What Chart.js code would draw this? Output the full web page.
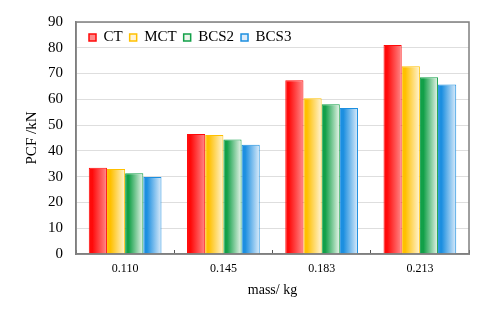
<!DOCTYPE html>
<html>
<head>
<meta charset="utf-8">
<script src="https://cdn.jsdelivr.net/npm/chart.js@4/dist/chart.umd.min.js"></script>
<style>
html,body{margin:0;padding:0;background:#fff}
#wrap{width:490px;height:314px}
</style>
</head>
<body>
<div id="wrap"><canvas id="c"></canvas></div>
<script>
// data
const masses=["0.110","0.145","0.183","0.213"]
const ct=[33.5,46.6,67.4,81.1]
const mct=[33.0,46.2,60.4,72.8]
const bcs2=[31.3,44.4,58.1,68.6]
const bcs3=[29.9,42.4,56.6,65.8]

// base colour (left edge) and light colour (right edge) for each series
const shades=[
["#ff0a0a","#ff8a8a"],
["#ffc000","#fff4d6"],
["#12a048","#ecf5ec"],
["#1c8fe0","#ddecfa"]
]

// horizontal gradient on every bar, built from the bar's own x/width
const barShade={
id:"barShade",
beforeDatasetsDraw(chart){
const ctx=chart.ctx
chart.data.datasets.forEach((ds,d)=>{
const meta=chart.getDatasetMeta(d)
meta.data.forEach(bar=>{
const x0=bar.x-bar.width/2
const g=ctx.createLinearGradient(x0,0,x0+bar.width,0)
g.addColorStop(0,shades[d][0])
g.addColorStop(0.2,shades[d][0])
g.addColorStop(1,shades[d][1])
bar.options.backgroundColor=g
})
})
}
}

// legend sits inside the plot, one row, without taking layout space
const legendInside={
id:"legendInside",
beforeUpdate(chart){
const lg=chart.legend
if(lg && !lg._inside){
const fit=lg.fit.bind(lg)
lg.fit=function(){fit();this._realHeight=this.height;this.height=0}
lg._inside=true
}
},
beforeDraw(chart){
const lg=chart.legend
if(!lg || lg._shifted) return
lg.left+=6
lg.right+=6
lg.top+=1
lg.height=lg._realHeight
lg.bottom=lg.top+lg.height
lg._shifted=true
},
afterUpdate(chart){
if(chart.legend) chart.legend._shifted=false
}
}

// grey frame round the plot area
const frame={
id:"frame",
afterDatasetsDraw(chart){
const a=chart.chartArea,ctx=chart.ctx
ctx.save()
ctx.strokeStyle="#7f7f7f"
ctx.lineWidth=1.5
ctx.strokeRect(a.left,a.top,a.right-a.left,a.bottom-a.top)
ctx.restore()
}
}

const serif="'Liberation Serif','Times New Roman',serif"

function ds(label,data,i){
return{
label:label,
data:data,
backgroundColor:()=>shades[i][0],
borderColor:shades[i][0],
borderWidth:1,
borderSkipped:"bottom",
barPercentage:1,
categoryPercentage:0.74
}
}

new Chart(document.getElementById("c"),{
type:"bar",
data:{
labels:masses,
datasets:[
ds("CT",ct,0),
ds("MCT",mct,1),
ds("BCS2",bcs2,2),
ds("BCS3",bcs3,3)
]
},
plugins:[legendInside,barShade,frame],
options:{
responsive:true,
maintainAspectRatio:false,
animation:false,
layout:{padding:{left:0,right:21,top:19,bottom:0}},
plugins:{
tooltip:{enabled:false},
legend:{
position:"top",
align:"start",
fullSize:false,
labels:{
boxWidth:7,
boxHeight:7,
padding:7,
color:"#000",
font:{family:serif,size:15},
generateLabels(chart){
return chart.data.datasets.map((d,i)=>({
text:d.label,
fillStyle:shades[i][1],
strokeStyle:shades[i][0],
lineWidth:1.5,
datasetIndex:i
}))
}
}
}
},
scales:{
x:{
afterFit(s){s.height=60},
border:{color:"#7f7f7f",width:1.5},
grid:{drawOnChartArea:false,drawTicks:true,tickLength:-4,color:"#555"},
ticks:{color:"#000",font:{family:serif,size:12},padding:12},
title:{display:true,text:"mass/ kg",color:"#000",font:{family:serif,size:14},padding:{top:0,bottom:15}}
},
y:{
min:0,
max:90,
afterFit(s){s.width=76},
border:{color:"#7f7f7f",width:1.5},
grid:{color:"#dedede",lineWidth:1,drawTicks:false},
ticks:{stepSize:10,color:"#000",font:{family:serif,size:15},padding:13},
title:{display:true,text:"PCF /kN",color:"#000",font:{family:serif,size:15},padding:{top:23,bottom:0}}
}
}
}
})
</script>
</body>
</html>
